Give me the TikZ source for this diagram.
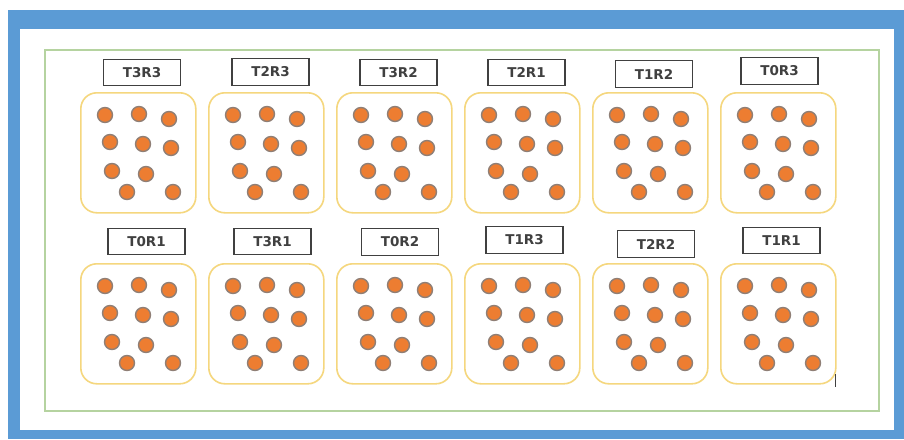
\documentclass[tikz,border=0pt]{standalone}
\usepackage{fontspec}
\setmainfont{DejaVu Sans}
\definecolor{frameblue}{HTML}{5B9BD5}
\definecolor{plotgreen}{HTML}{B5D3A0}
\definecolor{potyellow}{HTML}{F5D77E}
\definecolor{seedorange}{HTML}{ED7D31}
\definecolor{seedring}{HTML}{8F7F76}
\definecolor{labelgray}{HTML}{404040}
\tikzset{
  tag/.style={draw=labelgray, line width=1.4pt, fill=white, minimum width=77pt,
    minimum height=26.5pt, inner sep=0pt, text=labelgray,
    font=\bfseries\fontsize{13.5}{14}\selectfont},
  pot/.style={draw=potyellow, line width=1.6pt, rounded corners=16pt,
    minimum width=115pt, minimum height=120pt, inner sep=0pt, anchor=north west},
  seed/.style={circle, fill=seedorange, draw=seedring, line width=1.4pt,
    minimum size=15pt, inner sep=0pt}
}
\begin{document}
\begin{tikzpicture}[x=1pt,y=-1pt]
\useasboundingbox (0,0) rectangle (904,439);
% outer blue frame
\fill[frameblue] (8,10) rectangle (904,439);
\fill[white] (20,29) rectangle (894,430);
% green field border
\draw[plotgreen, line width=1.2pt] (45,50) rectangle (879,411);
% pots with seeds
\foreach \n/\px/\py in {a/80/92, b/208/92, c/336/92, d/464/92, e/592/92, f/720/92,
                        g/80/263, h/208/263, i/336/263, j/464/263, k/592/263, l/720/263} {
  \node[pot] (pot\n) at (\px,\py) {};
  \foreach \dx/\dy [count=\s] in {25/23, 59/22, 89/27, 30/50, 63/52, 91/56, 32/79, 66/82, 47/100, 93/100}
    \node[seed] (seed\n\s) at (\px+\dx,\py+\dy) {};
}
% labels
\node[tag] (la) at (142,72.5) {T3R3};
\node[tag] (lb) at (270.5,72) {T2R3};
\node[tag] (lc) at (398.5,72.5) {T3R2};
\node[tag] (ld) at (526.5,72.5) {T2R1};
\node[tag] (le) at (654,74) {T1R2};
\node[tag] (lf) at (779.5,71) {T0R3};
\node[tag] (lg) at (146.5,241.5) {T0R1};
\node[tag] (lh) at (272.5,241.5) {T3R1};
\node[tag] (li) at (400,242) {T0R2};
\node[tag] (lj) at (524.5,240) {T1R3};
\node[tag] (lk) at (656,244) {T2R2};
\node[tag] (ll) at (781.5,240.5) {T1R1};
% small mark
\draw[labelgray, line width=1pt] (835,374) -- (835,387);
\end{tikzpicture}
\end{document}
